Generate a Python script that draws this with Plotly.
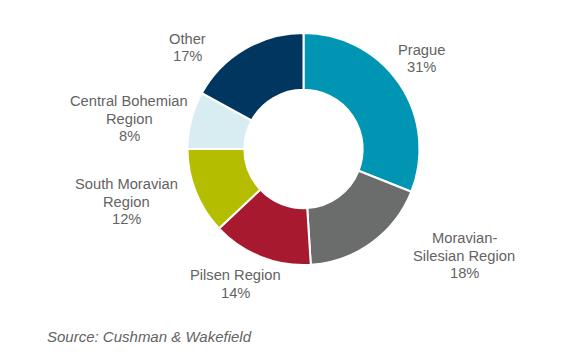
import plotly.graph_objects as go

W, H = 565, 359
OFF = 8  # page body margin

labels = ["Prague", "Moravian-Silesian Region", "Pilsen Region",
          "South Moravian Region", "Central Bohemian Region", "Other"]
values = [31, 18, 14, 12, 8, 17]
label_lines = [["Prague"], ["Moravian-", "Silesian Region"], ["Pilsen Region"],
               ["South Moravian", "Region"], ["Central Bohemian", "Region"], ["Other"]]
colors = ["#0095b3", "#6b6c6c", "#a6192e", "#b5bd00", "#d8edf1", "#00365f"]

# label block centres in pixels (x, y of first line centre)
label_pos = [(421, 50), (464, 238), (235, 275), (126, 184), (129, 101), (187, 39)]
line_gap = 17.5
text_color = "#636363"

def px(x, y):
    return (x - OFF) / W, 1 - (y - OFF) / H

x0d, y1d = px(187, 33)
x1d, y0d = px(420, 265)

fig = go.Figure(go.Pie(
    labels=labels, values=values, sort=False, direction="clockwise",
    rotation=0, hole=0.51, textinfo="none", hoverinfo="label+percent",
    marker=dict(colors=colors, line=dict(color="white", width=2)),
    domain=dict(x=[x0d, x1d], y=[y0d, y1d]),
    showlegend=False,
))

annotations = []
for lines, v, (x0, y0) in zip(label_lines, values, label_pos):
    all_lines = lines + [f"{v}%"]
    for i, t in enumerate(all_lines):
        ax, ay = px(x0, y0 + i * line_gap)
        annotations.append(dict(x=ax, y=ay, xref="paper", yref="paper", text=t,
                                showarrow=False, xanchor="center", yanchor="middle",
                                font=dict(family="Liberation Sans, Arial", size=14.7,
                                          color=text_color)))

sx, sy = px(45, 336)
annotations.append(dict(x=sx, y=sy, xref="paper", yref="paper",
                        text="<i>Source: Cushman & Wakefield</i>", showarrow=False,
                        xanchor="left", yanchor="middle",
                        font=dict(family="Liberation Sans, Arial", size=15,
                                  color=text_color)))

fig.update_layout(width=W, height=H, margin=dict(l=0, r=0, t=0, b=0),
                  paper_bgcolor="white", plot_bgcolor="white",
                  annotations=annotations)

fig.write_html("out.html")
